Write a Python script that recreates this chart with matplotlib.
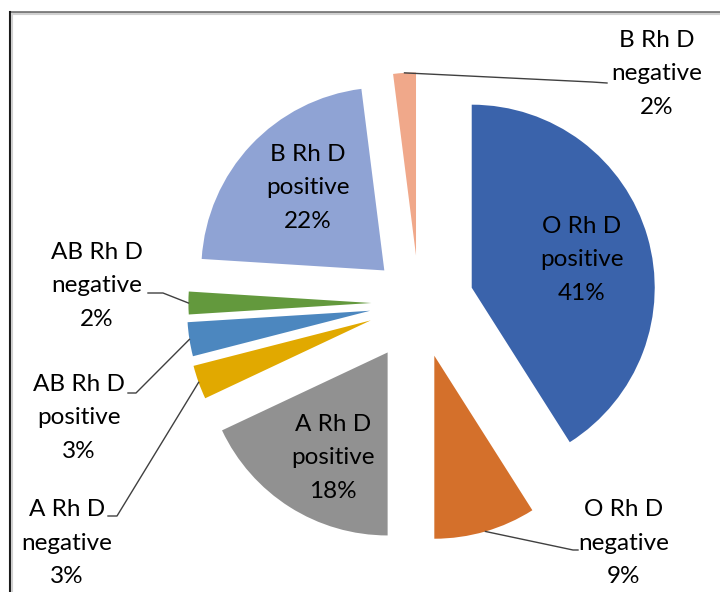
import numpy as np
import matplotlib.pyplot as plt

plt.rcParams['font.family'] = ['Lato', 'DejaVu Sans']

groups = ["O Rh D\npositive", "O Rh D\nnegative", "A Rh D\npositive", "A Rh D\nnegative",
          "AB Rh D\npositive", "AB Rh D\nnegative", "B Rh D\npositive", "B Rh D\nnegative"]
percent = [41, 9, 18, 3, 3, 2, 22, 2]
colors = ["#3a63ab", "#d4702b", "#919191", "#e1a900", "#4c87bf", "#63993d", "#8fa3d4", "#f0a88a"]
explode = [0.30, 0.30, 0.32, 0.28, 0.27, 0.26, 0.26, 0.26]

W, H = 720, 592
R = 183
fig = plt.figure(figsize=(7.2, 5.92), dpi=100)
ax = fig.add_axes([0, 0, 1, 1])

wedges, _ = ax.pie(percent, colors=colors, explode=[e * R for e in explode],
                   startangle=90, counterclock=False, radius=R,
                   center=(419, H - 303), wedgeprops=dict(linewidth=0))
ax.set_xlim(0, W)
ax.set_ylim(0, H)
ax.axis("off")

# label centres (pixel coords from top-left)
label_pos = [(582, 260), (624, 543), (333, 458), (67, 543),
             (79, 418), (97, 286), (308, 188), (657, 74)]
# leader lines: (elbow, end) for outside labels
leaders = {1: [(573, 550), (578, 550)],
           3: [(117, 516), (108, 516)],
           4: [(136, 393), (128, 393)],
           5: [(163, 293), (148, 293)],
           7: [(592, 82), (607, 83)]}

for i, (g, p) in enumerate(zip(groups, percent)):
    x, y = label_pos[i]
    ax.text(x, H - y, f"{g}\n{p}%", ha="center", va="center", fontsize=17.5,
            linespacing=1.75, color="black")
    if i in leaders:
        w = wedges[i]
        t = np.deg2rad((w.theta1 + w.theta2) / 2)
        sx = w.center[0] + w.r * np.cos(t)
        sy = w.center[1] + w.r * np.sin(t)
        xs = [sx] + [q[0] for q in leaders[i]]
        ys = [sy] + [H - q[1] for q in leaders[i]]
        ax.plot(xs, ys, color="#404040", lw=1)

# chart area border (only top and left are visible in the crop)
ax.plot([9.5, W], [H - 12, H - 12], color="#7a7a7a", lw=2, clip_on=False)
ax.plot([11, W], [H - 14, H - 14], color="#d0d0d0", lw=1.5, clip_on=False)
ax.plot([9.5, 9.5], [0, H - 12], color="#1a1a1a", lw=1.5, clip_on=False)
ax.plot([11.5, 11.5], [0, H - 14], color="#d0d0d0", lw=1.5, clip_on=False)

fig.savefig("out.png", dpi=100)
